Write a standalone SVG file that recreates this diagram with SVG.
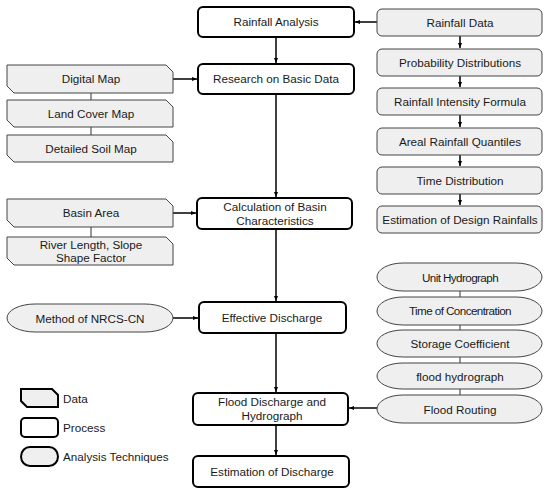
<svg xmlns="http://www.w3.org/2000/svg" width="550" height="494" viewBox="0 0 550 494">
<defs>
<marker id="ah" viewBox="0 0 10 10" refX="10" refY="5" markerWidth="5" markerHeight="5" orient="auto" markerUnits="userSpaceOnUse">
<path d="M0,1 L10,5 L0,9 z" fill="#000"/>
</marker>
</defs>
<style>
text{font-family:"Liberation Sans",Arial,sans-serif;font-size:11.7px;fill:#1a1a1a;text-anchor:middle}
.proc{fill:#fff;stroke:#000;stroke-width:2}
.data{fill:#efefef;stroke:#444;stroke-width:1}
.tech{fill:#efefef;stroke:#444;stroke-width:1}
.rd{fill:#efefef;stroke:#444;stroke-width:1}
.leg{stroke:#000;stroke-width:2}
.ln{stroke:#000;stroke-width:1.5;fill:none}
.thin{stroke:#333;stroke-width:1;fill:none}
.lt{text-anchor:start}
.cond{letter-spacing:-0.6px}
</style>
<g id="connectors">
<line class="ln" x1="276" y1="37" x2="276" y2="63" marker-end="url(#ah)"/>
<line class="ln" x1="276" y1="94" x2="276" y2="197" marker-end="url(#ah)"/>
<line class="ln" x1="276" y1="229" x2="276" y2="301" marker-end="url(#ah)"/>
<line class="ln" x1="276" y1="333" x2="276" y2="392" marker-end="url(#ah)"/>
<line class="ln" x1="276" y1="425" x2="276" y2="455" marker-end="url(#ah)"/>
<line class="ln" x1="377" y1="22" x2="355" y2="22" marker-end="url(#ah)"/>
<line class="ln" x1="377" y1="408" x2="349" y2="408" marker-end="url(#ah)"/>
<line class="ln" x1="173" y1="79" x2="197" y2="79" marker-end="url(#ah)"/>
<line class="ln" x1="173" y1="213" x2="196" y2="213" marker-end="url(#ah)"/>
<line class="ln" x1="173" y1="318" x2="198" y2="318" marker-end="url(#ah)"/>
<line class="ln" x1="460" y1="36" x2="460" y2="48" marker-end="url(#ah)"/>
<line class="ln" x1="460" y1="76" x2="460" y2="87" marker-end="url(#ah)"/>
<line class="ln" x1="460" y1="115" x2="460" y2="127" marker-end="url(#ah)"/>
<line class="ln" x1="460" y1="155" x2="460" y2="166" marker-end="url(#ah)"/>
<line class="ln" x1="460" y1="194" x2="460" y2="205" marker-end="url(#ah)"/>
<line class="thin" x1="91" y1="93" x2="91" y2="100"/>
<line class="thin" x1="91" y1="127" x2="91" y2="135"/>
<line class="thin" x1="91" y1="227" x2="91" y2="237"/>
<line class="thin" x1="460" y1="291" x2="460" y2="297"/>
<line class="thin" x1="460" y1="325" x2="460" y2="330"/>
<line class="thin" x1="460" y1="357" x2="460" y2="363"/>
<line class="thin" x1="460" y1="389" x2="460" y2="395"/>
</g>
<g id="rainfall-analysis"><rect class="proc" x="198" y="7" width="156" height="30" rx="5"/><text x="276" y="26">Rainfall Analysis</text></g>
<g id="research"><rect class="proc" x="198" y="64" width="156" height="30" rx="5"/><text x="276" y="83">Research on Basic Data</text></g>
<g id="calculation"><rect class="proc" x="197" y="198" width="155" height="31" rx="5"/><text x="275" y="211">Calculation of Basin</text><text x="275" y="225">Characteristics</text></g>
<g id="effective"><rect class="proc" x="199" y="302" width="147" height="31" rx="5"/><text x="272" y="322">Effective Discharge</text></g>
<g id="flood-discharge"><rect class="proc" x="193" y="393" width="155" height="32" rx="5"/><text x="272" y="406">Flood Discharge and</text><text x="272" y="420">Hydrograph</text></g>
<g id="estimation"><rect class="proc" x="193" y="456" width="156" height="31" rx="5"/><text x="272" y="476">Estimation of Discharge</text></g>

<g id="rainfall-data"><rect class="rd" x="377" y="9" width="165" height="27" rx="5"/><text x="460" y="27">Rainfall Data</text></g>
<g id="probability"><rect class="rd" x="377" y="49" width="165" height="27" rx="5"/><text x="460" y="67">Probability Distributions</text></g>
<g id="intensity"><rect class="rd" x="377" y="88" width="165" height="27" rx="5"/><text x="460" y="106">Rainfall Intensity Formula</text></g>
<g id="areal"><rect class="rd" x="377" y="128" width="165" height="27" rx="5"/><text x="460" y="146">Areal Rainfall Quantiles</text></g>
<g id="time-dist"><rect class="rd" x="377" y="167" width="165" height="27" rx="5"/><text x="460" y="185">Time Distribution</text></g>
<g id="design"><rect class="rd" x="377" y="206" width="165" height="27" rx="5"/><text x="460" y="224">Estimation of Design Rainfalls</text></g>

<g id="digital-map"><path class="data" d="M7,65 H166 L173,72 V93 H14 L7,86 Z"/><text x="91" y="83">Digital Map</text></g>
<g id="land-cover"><path class="data" d="M7,100 H166 L173,107 V127 H14 L7,120 Z"/><text x="91" y="118">Land Cover Map</text></g>
<g id="soil-map"><path class="data" d="M7,135 H166 L173,142 V162 H14 L7,155 Z"/><text x="91" y="153">Detailed Soil Map</text></g>
<g id="basin-area"><path class="data" d="M7,199 H166 L173,206 V227 H14 L7,220 Z"/><text x="91" y="217">Basin Area</text></g>
<g id="river-length"><path class="data" d="M7,237 H166 L173,244 V265 H14 L7,258 Z"/><text x="91" y="249">River Length, Slope</text><text x="91" y="262">Shape Factor</text></g>

<g id="nrcs"><rect class="tech" x="7" y="304" width="166" height="28" rx="28" ry="14"/><text x="90" y="323">Method of NRCS-CN</text></g>

<g id="unit-hydro"><rect class="tech" x="377" y="263" width="165" height="28" rx="26" ry="14"/><text class="cond" x="460" y="282">Unit Hydrograph</text></g>
<g id="time-conc"><rect class="tech" x="377" y="297" width="165" height="28" rx="26" ry="14"/><text class="cond" x="460" y="315">Time of Concentration</text></g>
<g id="storage"><rect class="tech" x="377" y="330" width="165" height="27" rx="26" ry="13.5"/><text x="460" y="348">Storage Coefficient</text></g>
<g id="flood-hydro"><rect class="tech" x="377" y="363" width="165" height="26" rx="26" ry="13"/><text x="460" y="381">flood hydrograph</text></g>
<g id="flood-routing"><rect class="tech" x="377" y="395" width="165" height="28" rx="26" ry="14"/><text x="460" y="414">Flood Routing</text></g>

<g id="legend">
<path class="data leg" d="M21,389 H52 L58,395 V407 H27 L21,401 Z"/><text class="lt" x="63" y="403">Data</text>
<rect class="leg" fill="#fff" x="21" y="418" width="37" height="19" rx="4"/><text class="lt" x="63" y="432">Process</text>
<rect class="leg" fill="#efefef" x="21" y="447" width="37" height="19" rx="9" ry="9.5"/><text class="lt" x="63" y="461">Analysis Techniques</text>
</g>
</svg>
